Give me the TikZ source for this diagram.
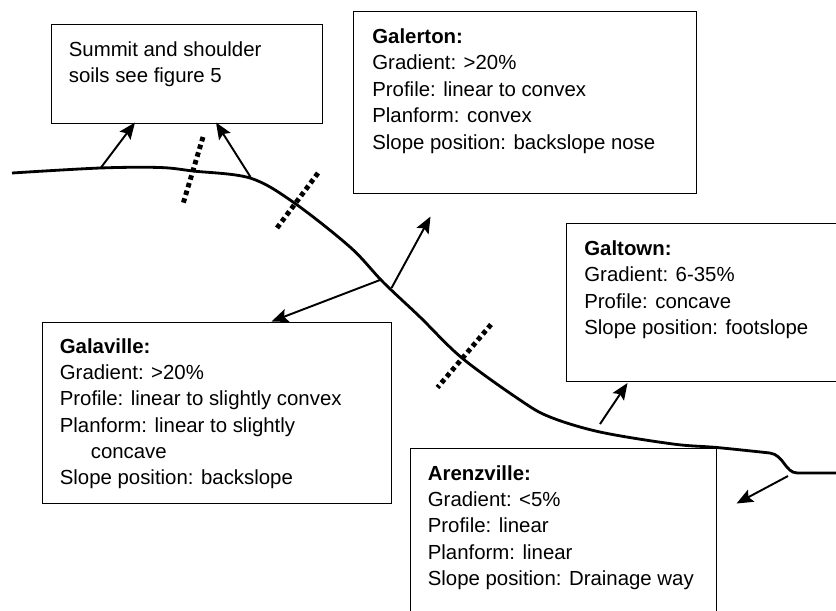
\documentclass[tikz,border=0pt]{standalone}
\usepackage{fontspec}
\setmainfont{Liberation Sans}
\usetikzlibrary{arrows.meta}

\begin{document}
\begin{tikzpicture}[
        >={Stealth[length=0.33cm,width=0.27cm,inset=0.06cm]},
        box/.style={draw, line width=0.8pt, anchor=north west, inner sep=0pt},
        info/.style={anchor=north west, inner sep=0pt, align=left, font=\fontsize{11.6}{15}\selectfont},
        hillslope/.style={line width=1.6pt},
        pointer/.style={->, line width=1.1pt},
        border/.style={line width=2.8pt, dash pattern=on 0.09cm off 0.07cm}
    ]
        \useasboundingbox (0,0) rectangle (16.72,-12.2);
        \clip (0,0) rectangle (16.72,-12.2);

        % Boxes
        \node[box, minimum width=5.42cm, minimum height=1.97cm] (summit) at (1.01,-0.48) {};
        \node[box, minimum width=6.86cm, minimum height=3.64cm] (galerton) at (7.06,-0.22) {};
        \node[box, minimum width=6.00cm, minimum height=3.16cm] (galtown) at (11.32,-4.46) {};
        \node[box, minimum width=6.98cm, minimum height=3.62cm] (galaville) at (0.83,-6.43) {};
        \node[box, minimum width=6.12cm, minimum height=4.00cm] (arenzville) at (8.20,-8.95) {};

        % Box texts
        \node[info] (summit text) at ([xshift=0.36cm, yshift=-0.35cm]summit.north west)
            {Summit and shoulder\\soils see figure 5};
        \node[info] (galerton text) at ([xshift=0.38cm, yshift=-0.35cm]galerton.north west)
            {\bfseries Galerton:\\Gradient: >20\%\\Profile: linear to convex\\Planform: convex\\Slope position: backslope nose};
        \node[info] (galtown text) at ([xshift=0.36cm, yshift=-0.35cm]galtown.north west)
            {\bfseries Galtown:\\Gradient: 6-35\%\\Profile: concave\\Slope position: footslope};
        \node[info] (galaville text) at ([xshift=0.36cm, yshift=-0.33cm]galaville.north west)
            {\bfseries Galaville:\\Gradient: >20\%\\Profile: linear to slightly convex\\Planform: linear to slightly\\\hspace*{0.62cm}concave\\Slope position: backslope};
        \node[info] (arenzville text) at ([xshift=0.35cm, yshift=-0.35cm]arenzville.north west)
            {\bfseries Arenzville:\\Gradient: <5\%\\Profile: linear\\Planform: linear\\Slope position: Drainage way};

        % Hillslope profile
        \draw[hillslope] plot[smooth, tension=0.55] coordinates {
            (0.24,-3.46) (2.0,-3.36) (3.2,-3.35) (3.86,-3.42) (5.0,-3.56) (5.86,-4.04)
            (7.0,-4.94) (7.66,-5.64) (8.4,-6.34) (9.24,-7.16) (10.4,-8.0) (11.0,-8.34)
            (12.0,-8.64) (13.46,-8.88) (14.34,-8.95) (15.4,-9.06)}
            .. controls (15.68,-9.1) and (15.7,-9.46) .. (15.95,-9.46) -- (16.8,-9.46);

        % Boundaries between slope positions
        \draw[border] (4.06,-2.74) -- (3.66,-4.08);
        \draw[border] (6.36,-3.46) -- (5.54,-4.56);
        \draw[border] (9.82,-6.49) -- (8.75,-7.75);

        % Arrow ends
        \coordinate (summit left) at (2.02,-3.35);
        \coordinate (summit left tip) at (2.70,-2.45);
        \coordinate (summit right) at (5.01,-3.54);
        \coordinate (summit right tip) at (4.32,-2.45);
        \coordinate (backslope up) at (7.83,-5.76);
        \coordinate (galerton tip) at (8.61,-4.33);
        \coordinate (backslope down) at (7.60,-5.60);
        \coordinate (galaville tip) at (5.43,-6.43);
        \coordinate (footslope) at (12.00,-8.48);
        \coordinate (galtown tip) at (12.55,-7.66);
        \coordinate (drainage) at (15.76,-9.52);
        \coordinate (arenzville tip) at (14.73,-10.07);

        % Arrows
        \draw[pointer] (summit left) -- (summit left tip);
        \draw[pointer] (summit right) -- (summit right tip);
        \draw[pointer] (backslope up) -- (galerton tip);
        \draw[pointer] (backslope down) -- (galaville tip);
        \draw[pointer] (footslope) -- (galtown tip);
        \draw[pointer] (drainage) -- (arenzville tip);

    \end{tikzpicture}
\end{document}
